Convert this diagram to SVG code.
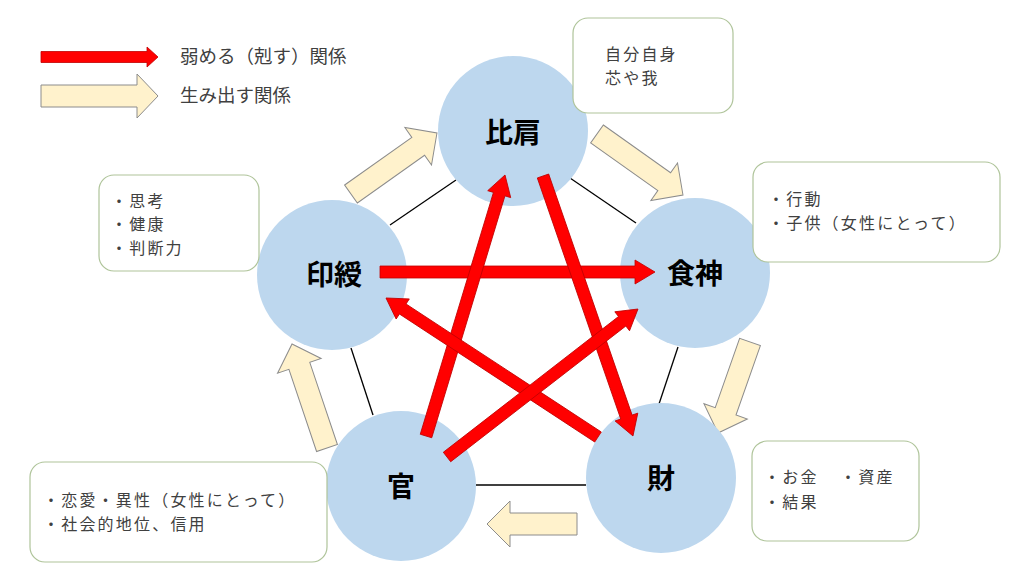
<svg xmlns="http://www.w3.org/2000/svg" width="1024" height="576" viewBox="0 0 1024 576">
<style>
  .bg { fill: #ffffff; }
  .circle { fill: #BDD7EE; }
  .label { font-family: "Noto Sans CJK JP", "Noto Sans", sans-serif; font-size: 28px; font-weight: bold; fill: #000000; text-anchor: middle; dominant-baseline: central; }
  .box { fill: #ffffff; stroke: #AFC49A; stroke-width: 1.2; }
  .txt { font-family: "Noto Sans CJK JP", "Noto Sans", sans-serif; font-size: 16px; letter-spacing: 2.2px; fill: #404040; }
  .legend { font-family: "Noto Sans CJK JP", "Noto Sans", sans-serif; font-size: 18.5px; fill: #404040; }
  .edge { stroke: #000000; stroke-width: 1.3; fill: none; }
  .red { fill: #FF0000; stroke: #C00000; stroke-width: 0.8; }
  .gen { fill: #FFF2CC; stroke: #8C8C8C; stroke-width: 1; }
</style>
<rect class="bg" x="0" y="0" width="1024" height="576"/>

<g id="legend">
  <polygon class="red" points="41,51.5 147,51.5 147,47 158,57 147,67 147,62.5 41,62.5"/>
  <text class="legend" x="180" y="63">弱める（剋す）関係</text>
  <polygon class="gen" points="41,85 137,85 137,74 158,96 137,118 137,107 41,107"/>
  <text class="legend" x="180" y="102">生み出す関係</text>
</g>

<g id="connectors">
  <line class="edge" x1="390" y1="225" x2="456" y2="180"/>
  <line class="edge" x1="570" y1="178" x2="636" y2="223"/>
  <line class="edge" x1="351" y1="348" x2="373" y2="415"/>
  <line class="edge" x1="678" y1="347" x2="659" y2="404"/>
  <line class="edge" x1="476" y1="485" x2="586" y2="485"/>

  <polygon class="gen" transform="translate(351,194) rotate(-35.35)" points="0,-11 82.4,-11 82.4,-23 105.4,0 82.4,23 82.4,11 0,11"/>
  <polygon class="gen" transform="translate(597,134) rotate(35.35)" points="0,-11 82.4,-11 82.4,-23 105.4,0 82.4,23 82.4,11 0,11"/>
  <polygon class="gen" transform="translate(750,342) rotate(109.37)" points="0,-11 73.5,-11 73.5,-23 96.5,0 73.5,23 73.5,11 0,11"/>
  <polygon class="gen" transform="translate(577,524) rotate(180)" points="0,-11 67,-11 67,-23 90,0 67,23 67,11 0,11"/>
  <polygon class="gen" transform="translate(327,448) rotate(-108.6)" points="0,-11 86.7,-11 86.7,-23 109.7,0 86.7,23 86.7,11 0,11"/>
</g>

<g id="node-hiken">
  <circle class="circle" cx="513" cy="131" r="75"/>
  <text class="label" x="513" y="131">比肩</text>
</g>
<g id="node-inju">
  <circle class="circle" cx="332" cy="275" r="75"/>
  <text class="label" x="334" y="273">印綬</text>
</g>
<g id="node-shokushin">
  <circle class="circle" cx="695" cy="273" r="75"/>
  <text class="label" x="695" y="272">食神</text>
</g>
<g id="node-kan">
  <circle class="circle" cx="401" cy="486" r="75"/>
  <text class="label" x="401" y="485">官</text>
</g>
<g id="node-zai">
  <circle class="circle" cx="661" cy="478" r="75"/>
  <text class="label" x="661" y="477">財</text>
</g>

<g id="red-arrows">
  <polygon class="red" transform="translate(380,272)" points="0,-6 255,-6 255,-12 275,0 255,12 255,6 0,6"/>
  <polygon class="red" transform="translate(426,436) rotate(-73.16)" points="0,-6 252.7,-6 252.7,-12 272.7,0 252.7,12 252.7,6 0,6"/>
  <polygon class="red" transform="translate(543,176) rotate(70.91)" points="0,-6 255.1,-6 255.1,-12 275.1,0 255.1,12 255.1,6 0,6"/>
  <polygon class="red" transform="translate(598,437) rotate(-146.75)" points="0,-6 233.5,-6 233.5,-12 253.5,0 233.5,12 233.5,6 0,6"/>
  <polygon class="red" transform="translate(447,457) rotate(-37.77)" points="0,-6 221.6,-6 221.6,-12 241.6,0 221.6,12 221.6,6 0,6"/>
</g>

<g id="box-hiken">
  <rect class="box" x="573" y="18" width="160" height="95" rx="15"/>
  <text class="txt"><tspan x="605" y="60">自分自身</tspan><tspan x="605" y="83.5">芯や我</tspan></text>
</g>
<g id="box-shokushin">
  <rect class="box" x="753" y="162" width="247" height="100" rx="15"/>
  <text class="txt"><tspan x="768" y="205">・行動</tspan><tspan x="768" y="228.5">・子供（女性にとって）</tspan></text>
</g>
<g id="box-zai">
  <rect class="box" x="752" y="441" width="167" height="100" rx="15"/>
  <text class="txt"><tspan x="764" y="483">・お金</tspan><tspan x="840" y="483">・資産</tspan><tspan x="764" y="507.5">・結果</tspan></text>
</g>
<g id="box-kan">
  <rect class="box" x="30" y="462" width="297" height="100" rx="15"/>
  <text class="txt"><tspan x="43" y="506">・恋愛・異性（女性にとって）</tspan><tspan x="43" y="529.5">・社会的地位、信用</tspan></text>
</g>
<g id="box-inju">
  <rect class="box" x="99" y="175" width="160" height="96" rx="15"/>
  <text class="txt"><tspan x="111" y="206.5">・思考</tspan><tspan x="111" y="230">・健康</tspan><tspan x="111" y="253.5">・判断力</tspan></text>
</g>
</svg>
